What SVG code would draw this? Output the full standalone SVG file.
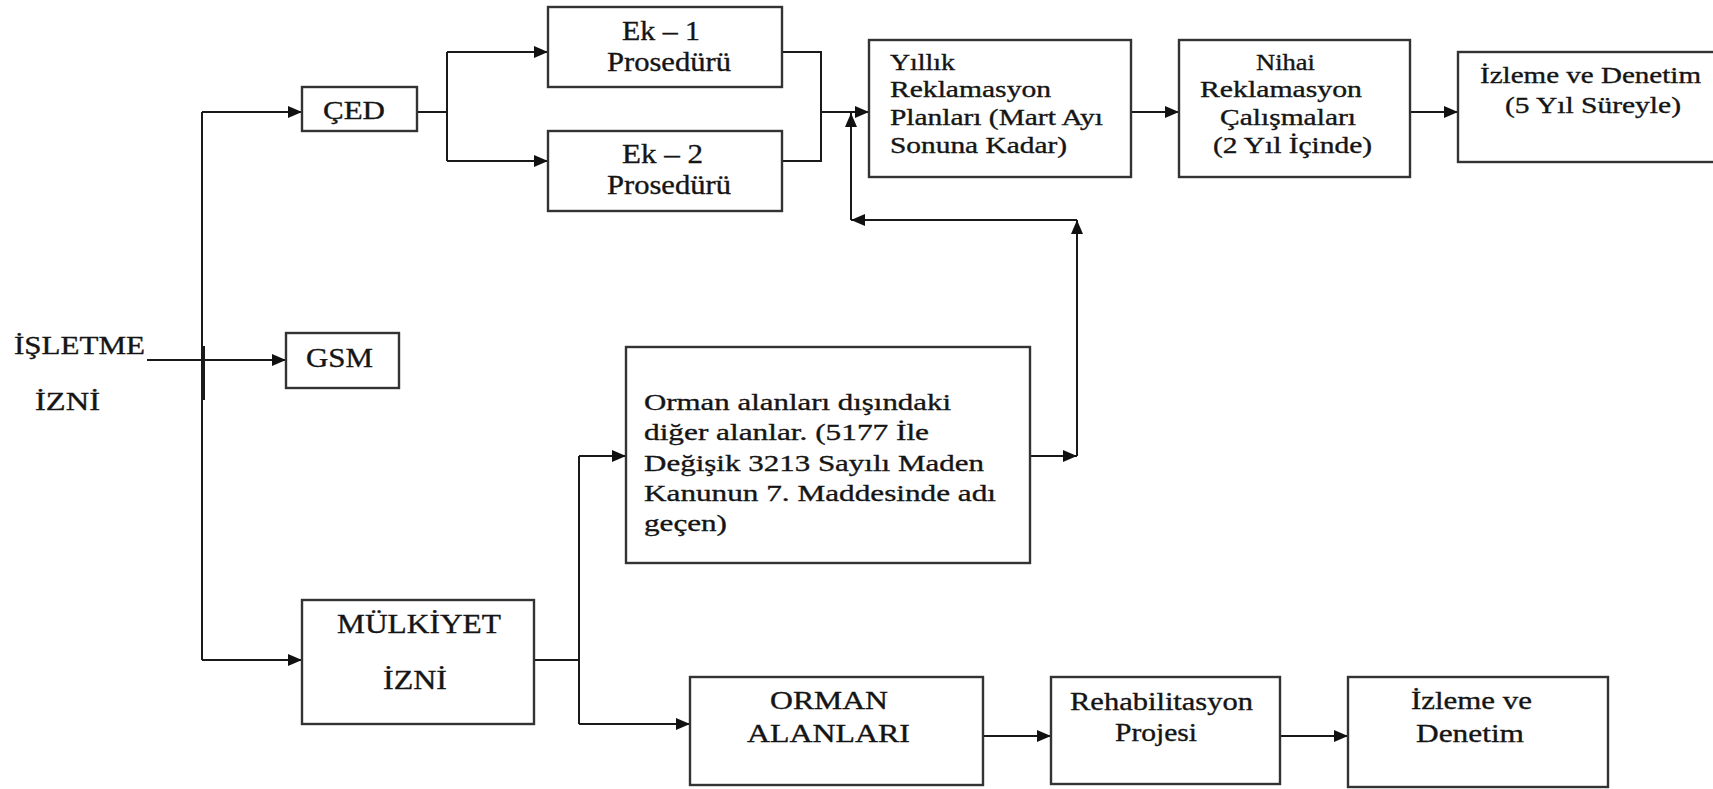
<svg xmlns="http://www.w3.org/2000/svg" width="1713" height="789" viewBox="0 0 1713 789" font-family="'Liberation Serif', 'DejaVu Serif', serif">
<style>
.box{fill:#fff;stroke:#333;stroke-width:2.4}
.ln{fill:none;stroke:#1a1a1a;stroke-width:2}
.arr{marker-end:url(#ah)}
text{font-family:'Liberation Serif','DejaVu Serif',serif;fill:#151515;stroke:#151515;stroke-width:0.35}
.f23{font-size:23px}.f24{font-size:24px}.f25{font-size:25px}.f26{font-size:26px}.f27{font-size:27px}
</style>
<defs>
<marker id="ah" markerUnits="userSpaceOnUse" markerWidth="16" markerHeight="12" refX="14" refY="6" orient="auto">
<path d="M0,0 L14,6 L0,12 Z" fill="#111"/>
</marker>
</defs>
<rect width="1713" height="789" fill="#fff"/>

<g id="connectors">
<path class="ln" d="M202,112 V660"/>
<path class="ln" d="M204,346 V400" stroke-width="1.6"/>
<path class="ln arr" d="M202,112 H302"/>
<path class="ln arr" d="M147,360 H286"/>
<path class="ln arr" d="M202,660 H302"/>
<path class="ln" d="M417,112 H447 M447,52 V161"/>
<path class="ln arr" d="M447,52 H548"/>
<path class="ln arr" d="M447,161 H548"/>
<path class="ln" d="M782,52 H821 V161 H782"/>
<path class="ln arr" d="M821,112 H869"/>
<path class="ln arr" d="M1030,456 H1077"/>
<path class="ln arr" d="M1077,456 V220"/>
<path class="ln arr" d="M1077,220 H851"/>
<path class="ln arr" d="M851,220 V113"/>
<path class="ln arr" d="M1131,112 H1179"/>
<path class="ln arr" d="M1410,112 H1458"/>
<path class="ln" d="M534,660 H579 M579,456 V724"/>
<path class="ln arr" d="M579,456 H626"/>
<path class="ln arr" d="M579,724 H690"/>
<path class="ln arr" d="M983,736 H1051"/>
<path class="ln arr" d="M1280,736 H1348"/>
</g>

<g id="isletme">
<text class="f26" x="14" y="354" textLength="131" lengthAdjust="spacingAndGlyphs">İŞLETME</text>
<text class="f26" x="35" y="410" textLength="65" lengthAdjust="spacingAndGlyphs">İZNİ</text>
</g>

<g id="ced">
<rect class="box" x="302" y="87" width="115" height="44"/>
<text class="f26" x="323" y="119" textLength="62" lengthAdjust="spacingAndGlyphs">ÇED</text>
</g>

<g id="gsm">
<rect class="box" x="286" y="333" width="113" height="55"/>
<text class="f27" x="306" y="367" textLength="67" lengthAdjust="spacingAndGlyphs">GSM</text>
</g>

<g id="ek1">
<rect class="box" x="548" y="7" width="234" height="80"/>
<text class="f27" x="622" y="40" textLength="78" lengthAdjust="spacingAndGlyphs">Ek – 1</text>
<text class="f27" x="607" y="71" textLength="124" lengthAdjust="spacingAndGlyphs">Prosedürü</text>
</g>

<g id="ek2">
<rect class="box" x="548" y="131" width="234" height="80"/>
<text class="f27" x="622" y="163" textLength="81" lengthAdjust="spacingAndGlyphs">Ek – 2</text>
<text class="f27" x="607" y="194" textLength="124" lengthAdjust="spacingAndGlyphs">Prosedürü</text>
</g>

<g id="yillik">
<rect class="box" x="869" y="40" width="262" height="137"/>
<text class="f23" x="890" y="70" textLength="65" lengthAdjust="spacingAndGlyphs">Yıllık</text>
<text class="f23" x="890" y="97" textLength="161" lengthAdjust="spacingAndGlyphs">Reklamasyon</text>
<text class="f23" x="890" y="125" textLength="213" lengthAdjust="spacingAndGlyphs">Planları (Mart Ayı</text>
<text class="f23" x="890" y="153" textLength="177" lengthAdjust="spacingAndGlyphs">Sonuna Kadar)</text>
</g>

<g id="nihai">
<rect class="box" x="1179" y="40" width="231" height="137"/>
<text class="f23" x="1256" y="70" textLength="59" lengthAdjust="spacingAndGlyphs">Nihai</text>
<text class="f23" x="1200" y="97" textLength="162" lengthAdjust="spacingAndGlyphs">Reklamasyon</text>
<text class="f23" x="1220" y="125" textLength="136" lengthAdjust="spacingAndGlyphs">Çalışmaları</text>
<text class="f23" x="1213" y="153" textLength="159" lengthAdjust="spacingAndGlyphs">(2 Yıl İçinde)</text>
</g>

<g id="izleme5">
<rect class="box" x="1458" y="52" width="270" height="110"/>
<text class="f24" x="1480" y="83" textLength="221" lengthAdjust="spacingAndGlyphs">İzleme ve Denetim</text>
<text class="f24" x="1505" y="113" textLength="176" lengthAdjust="spacingAndGlyphs">(5 Yıl Süreyle)</text>
</g>

<g id="orman-disi">
<rect class="box" x="626" y="347" width="404" height="216"/>
<text class="f24" x="644" y="410" textLength="307" lengthAdjust="spacingAndGlyphs">Orman alanları  dışındaki</text>
<text class="f24" x="644" y="440" textLength="285" lengthAdjust="spacingAndGlyphs">diğer alanlar. (5177 İle</text>
<text class="f24" x="644" y="471" textLength="340" lengthAdjust="spacingAndGlyphs">Değişik 3213 Sayılı Maden</text>
<text class="f24" x="644" y="501" textLength="352" lengthAdjust="spacingAndGlyphs">Kanunun 7. Maddesinde adı</text>
<text class="f24" x="644" y="531" textLength="83" lengthAdjust="spacingAndGlyphs">geçen)</text>
</g>

<g id="mulkiyet">
<rect class="box" x="302" y="600" width="232" height="124"/>
<text class="f27" x="337" y="633" textLength="164" lengthAdjust="spacingAndGlyphs">MÜLKİYET</text>
<text class="f27" x="383" y="689" textLength="64" lengthAdjust="spacingAndGlyphs">İZNİ</text>
</g>

<g id="orman">
<rect class="box" x="690" y="677" width="293" height="108"/>
<text class="f25" x="770" y="709" textLength="118" lengthAdjust="spacingAndGlyphs">ORMAN</text>
<text class="f25" x="747" y="742" textLength="163" lengthAdjust="spacingAndGlyphs">ALANLARI</text>
</g>

<g id="rehab">
<rect class="box" x="1051" y="677" width="229" height="107"/>
<text class="f25" x="1070" y="710" textLength="183" lengthAdjust="spacingAndGlyphs">Rehabilitasyon</text>
<text class="f25" x="1115" y="741" textLength="82" lengthAdjust="spacingAndGlyphs">Projesi</text>
</g>

<g id="izleme">
<rect class="box" x="1348" y="677" width="260" height="110"/>
<text class="f25" x="1411" y="709" textLength="121" lengthAdjust="spacingAndGlyphs">İzleme ve</text>
<text class="f25" x="1416" y="742" textLength="108" lengthAdjust="spacingAndGlyphs">Denetim</text>
</g>
</svg>
